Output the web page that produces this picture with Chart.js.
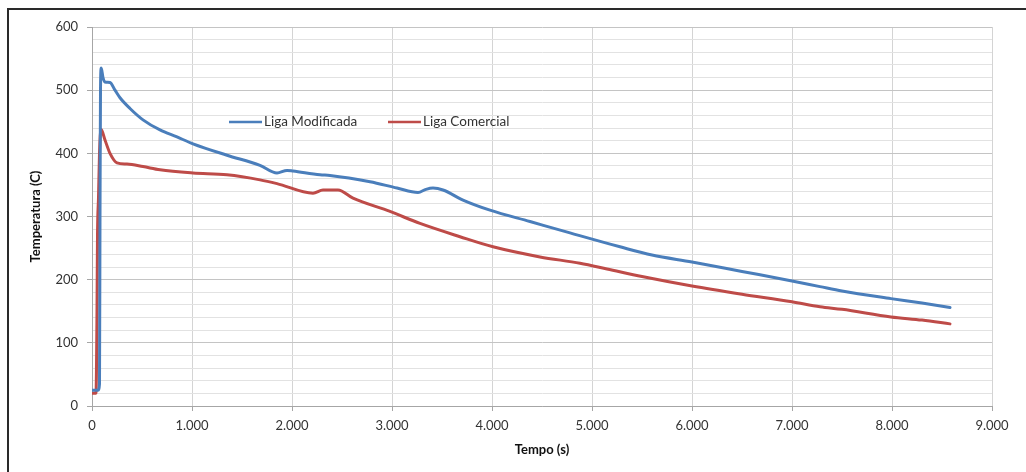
<!DOCTYPE html>
<html>
<head>
<meta charset="utf-8">
<script src="https://cdn.jsdelivr.net/npm/chart.js@4/dist/chart.umd.min.js"></script>
<style>
  html, body { margin: 0; padding: 0; background: #fff; overflow: hidden; }
  #wrap { position: relative; width: 1026px; height: 472px; }
  #frame { position: absolute; left: 7px; top: 8px; width: 1040px; height: 490px;
           border-top: 2px solid #2a2a2a; border-left: 2px solid #2a2a2a; pointer-events: none; }
</style>
</head>
<body>
<div id="wrap">
  <canvas id="c" width="1026" height="472"></canvas>
  <div id="frame"></div>
</div>
<script>
// ---- data ----
const seriesNames = ['Liga Modificada', 'Liga Comercial'];

const modTime = [0, 60, 75, 80, 85, 92, 110, 130, 180, 230, 280, 380, 510, 680, 850, 1010, 1350, 1680, 1850, 1950, 2010, 2280, 2380, 2780, 3050, 3260, 3340, 3410, 3510, 3710, 3980, 4380, 4780, 5280, 5600, 6000, 6500, 7000, 7280, 7500, 7990, 8300, 8580];
const modTemp = [25, 25, 35, 300, 500, 535, 520, 513, 512, 500, 488, 471, 453, 437, 426, 415, 397, 381, 369, 373, 372, 366, 365, 355, 345, 338, 343, 345, 342, 326, 310, 292, 274, 252, 239, 228, 213, 198, 189, 182, 170, 163, 156];

const comTime = [0, 40, 50, 55, 65, 75, 90, 130, 180, 250, 350, 510, 680, 1010, 1350, 1680, 1850, 2210, 2310, 2460, 2610, 2980, 3280, 3680, 4010, 4480, 4880, 5150, 5500, 6000, 6500, 7000, 7280, 7500, 7990, 8300, 8580];
const comTemp = [20, 20, 150, 270, 330, 400, 438, 421, 400, 385, 383, 379, 374, 369, 366, 358, 352, 337, 342, 342, 329, 308, 289, 268, 252, 236, 226, 217, 205, 190, 177, 165, 157, 153, 141, 136, 130];

const xTicks = [0, 1000, 2000, 3000, 4000, 5000, 6000, 7000, 8000, 9000];
const yTicks = [0, 100, 200, 300, 400, 500, 600];

const toPoints = (xs, ys) => xs.map((x, i) => ({ x: x, y: ys[i] }));
const fmtThousands = v => {
  const s = String(Math.round(v));
  return s.replace(/\B(?=(\d{3})+(?!\d))/g, '.');
};

const FONT = "Lato, 'Open Sans', sans-serif";

const legendInside = {
  id: 'legendInside',
  afterDraw(chart) {
    const ctx = chart.ctx;
    const spots = [{ x: 229, y: 122 }, { x: 388, y: 122 }];
    ctx.save();
    ctx.font = "13.5px " + FONT;
    ctx.textBaseline = 'middle';
    ctx.textAlign = 'left';
    chart.data.datasets.forEach((ds, i) => {
      const s = spots[i];
      ctx.strokeStyle = ds.borderColor;
      ctx.lineWidth = 2.5;
      ctx.beginPath();
      ctx.moveTo(s.x, s.y);
      ctx.lineTo(s.x + 33, s.y);
      ctx.stroke();
      ctx.fillStyle = '#333';
      ctx.fillText(ds.label, s.x + 35, s.y);
    });
    ctx.restore();
  }
};

const whiteBg = {
  id: 'whiteBg',
  beforeDraw(chart) {
    const ctx = chart.ctx;
    ctx.save();
    ctx.fillStyle = '#fff';
    ctx.fillRect(0, 0, chart.width, chart.height);
    ctx.restore();
  }
};

const lineStyle = { borderWidth: 3, pointRadius: 0, cubicInterpolationMode: 'monotone', borderJoinStyle: 'round', borderCapStyle: 'round', fill: false };

new Chart(document.getElementById('c'), {
  type: 'line',
  data: {
    datasets: [
      Object.assign({ label: seriesNames[0], data: toPoints(modTime, modTemp), borderColor: '#4a7ebb', backgroundColor: '#4a7ebb' }, lineStyle),
      Object.assign({ label: seriesNames[1], data: toPoints(comTime, comTemp), borderColor: '#be4b48', backgroundColor: '#be4b48' }, lineStyle)
    ]
  },
  options: {
    responsive: false,
    animation: false,
    parsing: false,
    layout: { padding: { left: 0, top: 27, right: 34, bottom: 0 } },
    plugins: { legend: { display: false }, tooltip: { enabled: false } },
    scales: {
      x: {
        type: 'linear', min: 0, max: 9000,
        afterFit(scale) { scale.height = 66; },
        afterBuildTicks(scale) { scale.ticks = xTicks.map(v => ({ value: v })); },
        ticks: { callback: v => fmtThousands(v), font: { family: FONT, size: 13 }, color: '#333', padding: 7, maxRotation: 0, autoSkip: false },
        grid: { color: '#d4d4d4', lineWidth: 1, tickLength: 5, tickColor: '#a6a6a6' },
        border: { display: true, color: '#a6a6a6', width: 1 },
        title: { display: true, text: 'Tempo (s)', font: { family: FONT, size: 13, weight: 'bold' }, color: '#111', padding: { top: 0, bottom: 14 } }
      },
      y: {
        type: 'linear', min: 0, max: 600,
        afterFit(scale) { scale.width = 92; },
        afterBuildTicks(scale) {
          const t = [];
          for (let v = 0; v <= 600; v += 20) t.push({ value: v });
          scale.ticks = t;
        },
        ticks: { callback: v => (yTicks.includes(v) ? String(v) : ''), font: { family: FONT, size: 13 }, color: '#333', padding: 9, autoSkip: false },
        grid: {
          color: c => (c.tick && yTicks.includes(c.tick.value) ? '#c4c4c4' : '#e2e2e2'),
          tickColor: c => (c.tick && yTicks.includes(c.tick.value) ? '#a6a6a6' : 'rgba(0,0,0,0)'),
          lineWidth: 1, tickLength: 5
        },
        border: { display: true, color: '#a6a6a6', width: 1 },
        title: { display: true, text: 'Temperatura (C)', font: { family: FONT, size: 13, weight: 'bold' }, color: '#111', padding: { top: 28, bottom: 0 } }
      }
    }
  },
  plugins: [whiteBg, legendInside]
});
</script>
</body>
</html>
